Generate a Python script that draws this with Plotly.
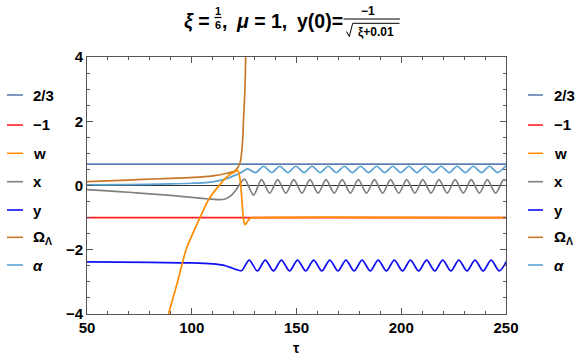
import plotly.graph_objects as go

# ---------------- data ----------------
tau_const = [50, 250]
two_thirds = [2 / 3, 2 / 3]
minus_one = [-1, -1]

tau_w = [86.0, 88.9, 93.0, 97.3, 100.5, 104.0, 108.2, 113.3, 116.8, 120.7,
         122.0, 123.2, 124.2, 124.8, 125.5, 126.5, 128.0, 130.0, 250.0]
w_vals = [-4.75, -4.0, -3.05, -2.0, -1.49, -0.99, -0.42, 0.02, 0.27, 0.44,
          0.47, 0.12, -0.70, -1.10, -1.22, -1.13, -1.02, -1.0, -1.0]

tau_om = [50, 69, 85, 100.8, 110, 116.8, 120.7, 123.0, 124.3, 124.7, 125.2, 125.6, 126.0]
om_vals = [0.12, 0.17, 0.21, 0.25, 0.30, 0.38, 0.46, 0.69, 1.42, 2.04, 2.7, 3.5, 5.0]

tau_alpha = [50, 70, 90, 100, 108, 113, 117, 120, 123,
             126.6, 130.5, 134.3, 138.2, 142.0, 145.9, 149.7, 153.6, 157.4, 161.3,
             165.1, 169.0, 172.8, 176.7, 180.5, 184.4, 188.2, 192.1, 195.9, 199.8,
             203.6, 207.5, 211.3, 215.2, 219.0, 222.9, 226.7, 230.6, 234.4, 238.3,
             242.1, 246.0, 249.8, 250.0]
alpha_vals = [0.02, 0.03, 0.05, 0.07, 0.10, 0.15, 0.22, 0.30, 0.38,
              0.52, 0.40, 0.60, 0.40, 0.60, 0.40, 0.60, 0.40, 0.60, 0.40,
              0.60, 0.40, 0.60, 0.40, 0.60, 0.40, 0.60, 0.40, 0.60, 0.40,
              0.60, 0.40, 0.60, 0.40, 0.60, 0.40, 0.60, 0.40, 0.60, 0.40,
              0.60, 0.40, 0.60, 0.60]

tau_x = [50, 60, 70, 80, 90, 100, 108, 112, 116, 119, 121, 123,
         125.2, 129.5, 133.3, 137.2, 141.0, 144.9, 148.7, 152.6, 156.4, 160.3,
         164.1, 168.0, 171.8, 175.7, 179.5, 183.4, 187.2, 191.1, 194.9, 198.8,
         202.6, 206.5, 210.3, 214.2, 218.0, 221.9, 225.7, 229.6, 233.4, 237.3,
         241.1, 245.0, 248.8, 250.0]
x_vals = [-0.13, -0.17, -0.21, -0.26, -0.31, -0.37, -0.42, -0.44, -0.42, -0.30, -0.15, 0.05,
          0.20, -0.30, 0.18, -0.24, 0.18, -0.24, 0.18, -0.24, 0.18, -0.24,
          0.18, -0.24, 0.18, -0.24, 0.18, -0.24, 0.18, -0.24, 0.18, -0.24,
          0.18, -0.24, 0.18, -0.24, 0.18, -0.24, 0.18, -0.24, 0.18, -0.24,
          0.18, -0.24, 0.18, 0.15]

tau_y = [50, 80, 100, 110, 115, 118.4, 121, 123.8,
         127.4, 131.3, 135.1, 139.0, 142.8, 146.7, 150.5, 154.4, 158.2, 162.1,
         165.9, 169.8, 173.6, 177.5, 181.3, 185.2, 189.0, 192.9, 196.7, 200.6,
         204.4, 208.3, 212.1, 216.0, 219.8, 223.7, 227.5, 231.4, 235.2, 239.1,
         242.9, 246.8, 250.6]
y_vals = [-2.38, -2.39, -2.41, -2.44, -2.48, -2.55, -2.61, -2.65,
          -2.32, -2.66, -2.32, -2.66, -2.32, -2.66, -2.32, -2.66, -2.32, -2.66,
          -2.32, -2.66, -2.32, -2.66, -2.32, -2.66, -2.32, -2.66, -2.32, -2.66,
          -2.32, -2.66, -2.32, -2.66, -2.32, -2.66, -2.32, -2.66, -2.32, -2.66,
          -2.32, -2.66, -2.32]

legend_labels = ["2/3", "\u22121", "w", "x", "y", "\u03a9<sub>\u039b</sub>", "<i>\u03b1</i>"]
colors = ["#5E81B5", "#FF2020", "#FF8C00", "#808080", "#1010F0", "#C8782A", "#5BA3D5"]

x_ticks = [50, 100, 150, 200, 250]
y_ticks = [-4, -2, 0, 2, 4]

# ---------------- layout geometry (pixels) ----------------
W, H = 576, 357
L, R, T, B = 87, 506, 57, 314
FONT = "Liberation Sans, Arial, sans-serif"


def px(xp, yp):
    return (xp - L) / (R - L), (B - yp) / (B - T)


fig = go.Figure()
LW = 1.7
series = [
    (tau_const, two_thirds, colors[0], "linear"),
    (tau_const, minus_one, colors[1], "linear"),
    (tau_x, x_vals, colors[3], "spline"),
    (tau_y, y_vals, colors[4], "spline"),
    (tau_alpha, alpha_vals, colors[6], "spline"),
    (tau_om, om_vals, colors[5], "spline"),
    (tau_w, w_vals, colors[2], "spline"),
]
for xs, ys, c, shp in series:
    fig.add_trace(go.Scatter(x=xs, y=ys, mode="lines", showlegend=False,
                             line=dict(color=c, width=LW, shape=shp, smoothing=0.8),
                             hoverinfo="skip"))

axis_common = dict(
    showline=True, linecolor="#555555", linewidth=1, mirror="ticks",
    ticks="inside", ticklen=6, tickwidth=1, tickcolor="#555555",
    showgrid=False,
    tickfont=dict(family=FONT, size=15, color="black"),
)
fig.update_xaxes(range=[50, 250], tickvals=x_ticks,
                 ticktext=[f"<b>{v}</b>" for v in x_ticks],
                 minor=dict(dtick=10, tick0=50, ticks="inside", ticklen=3, tickcolor="#555555"),
                 zeroline=False, **axis_common)
fig.update_yaxes(range=[-4, 4], tickvals=y_ticks,
                 ticktext=[f"<b>{v}</b>".replace("-", "\u2212") for v in y_ticks],
                 minor=dict(dtick=0.5, tick0=0, ticks="inside", ticklen=3, tickcolor="#555555"),
                 zeroline=True, zerolinecolor="#333333", zerolinewidth=1.2,
                 **axis_common)

shapes = []
annotations = []

# legends (left and right)
leg_y = [95, 125, 153.3, 181.7, 210, 237.3, 265]
for (lx0, lx1, tx) in [(7, 23, 31), (528, 543, 552)]:
    for lab, c, yy in zip(legend_labels, colors, leg_y):
        a0, b0 = px(lx0, yy)
        a1, _ = px(lx1, yy)
        shapes.append(dict(type="line", xref="paper", yref="paper", x0=a0, x1=a1,
                           y0=b0, y1=b0, line=dict(color=c, width=1.6)))
        ta, tb = px(tx, yy)
        annotations.append(dict(xref="paper", yref="paper", x=ta, y=tb, xanchor="left",
                                yanchor="middle", showarrow=False, text=f"<b>{lab}</b>",
                                font=dict(family=FONT, size=15, color="black")))

# axis title
ta, tb = px(296, 348)
annotations.append(dict(xref="paper", yref="paper", x=ta, y=tb, xanchor="center",
                        yanchor="middle", showarrow=False, text="<b>\u03c4</b>",
                        font=dict(family=FONT, size=14, color="black")))


# title pieces
def ann(xp, yp, text, size, xanchor="center"):
    a, b = px(xp, yp)
    annotations.append(dict(xref="paper", yref="paper", x=a, y=b, xanchor=xanchor,
                            yanchor="middle", showarrow=False, text=text,
                            font=dict(family=FONT, size=size, color="black")))


def seg(x0, y0, x1, y1, w=1.2):
    a0, b0 = px(x0, y0)
    a1, b1 = px(x1, y1)
    shapes.append(dict(type="line", xref="paper", yref="paper", x0=a0, y0=b0,
                       x1=a1, y1=b1, line=dict(color="black", width=w)))


TS = 19.5
ann(212, 20.5, "<b><i>\u03be</i> =</b>", TS, "right")
ann(218, 11, "<b>1</b>", 11)
seg(214.5, 17.5, 221.5, 17.5)
ann(218, 25, "<b>6</b>", 11)
ann(220, 20.5, "<b>,</b>", TS, "left")
ann(234, 20.5, "<b><i>\u03bc</i> = 1,</b>", TS, "left")
ann(345, 20.5, "<b>y(0)=</b>", TS, "right")
ann(367.5, 11.5, "<b>\u22121</b>", 12)
seg(343.5, 19, 400, 19)
ann(376, 32, "<b>\u03be+0.01</b>", 12)
seg(346.5, 31.5, 349.3, 36.5, 1)
seg(349.3, 36.5, 352.7, 23.3, 1)
seg(352.7, 23.3, 399.5, 23.3, 1)

fig.update_layout(
    width=W, height=H,
    margin=dict(l=L, r=W - R, t=T, b=H - B, pad=0),
    paper_bgcolor="white", plot_bgcolor="white",
    shapes=shapes, annotations=annotations,
    showlegend=False,
)

fig.write_html("out.html")
